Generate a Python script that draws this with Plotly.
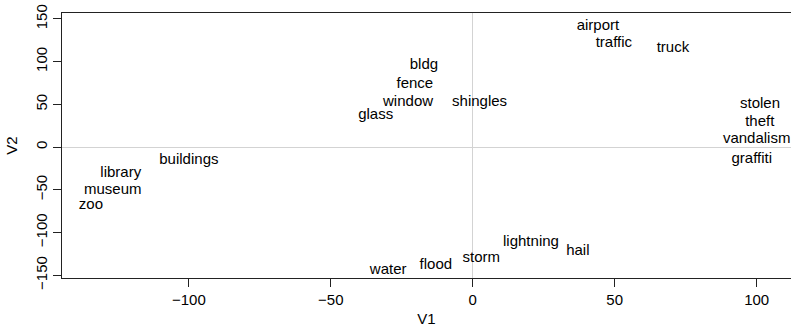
import plotly.graph_objects as go

words = ["airport", "traffic", "truck", "bldg", "fence", "window", "shingles", "glass",
         "stolen", "theft", "vandalism", "graffiti", "buildings", "library", "museum", "zoo",
         "water", "flood", "storm", "lightning", "hail"]
v1 = [44.1, 49.7, 70.5, -17.2, -20.4, -22.8, 2.4, -34.2,
      101.2, 101.1, 100.0, 98.3, -100.0, -124.0, -126.8, -134.5,
      -29.8, -13.0, 3.0, 20.5, 37.0]
v2 = [141.3, 121.9, 116.1, 96.1, 73.9, 52.2, 52.8, 37.5,
      50.4, 29.3, 9.4, -14.0, -15.2, -30.4, -50.3, -67.9,
      -144.1, -138.2, -130.0, -111.3, -121.8]

x_ticks = [-100, -50, 0, 50, 100]
y_ticks = [-150, -100, -50, 0, 50, 100, 150]

FONT = "Arial, 'Liberation Sans', Helvetica, sans-serif"

fig = go.Figure()
fig.add_trace(go.Scatter(
    x=v1, y=v2, text=words, mode="text",
    textposition="middle center",
    textfont=dict(family=FONT, size=15, color="black"),
    cliponaxis=True, hoverinfo="text", showlegend=False,
))

fig.update_layout(
    width=791, height=329,
    margin=dict(l=62, r=0, t=13, b=51),
    paper_bgcolor="white", plot_bgcolor="white",
    font=dict(family=FONT, size=15, color="black"),
    xaxis=dict(
        range=[-144.7, 112.1], tickvals=x_ticks, ticktext=[str(t).replace("-", "\u2212") for t in x_ticks],
        showgrid=False, zeroline=True, zerolinecolor="#d3d3d3", zerolinewidth=1,
        showline=True, linecolor="#222", linewidth=1, mirror=True,
        ticks="outside", ticklen=8, tickcolor="#222",
        tickfont=dict(size=15),
        title=dict(text="V1", font=dict(size=15), standoff=6),
    ),
    yaxis=dict(
        range=[-153.2, 157.0], tickvals=y_ticks, ticktext=[str(t).replace("-", "\u2212") for t in y_ticks],
        showgrid=False, zeroline=True, zerolinecolor="#d3d3d3", zerolinewidth=1,
        showline=True, linecolor="#222", linewidth=1, mirror=False,
        ticks="outside", ticklen=8, tickcolor="#222", tickangle=-90,
        tickfont=dict(size=15),
        title=dict(text="V2", font=dict(size=15), standoff=11),
    ),
)

fig.write_html("out.html")
